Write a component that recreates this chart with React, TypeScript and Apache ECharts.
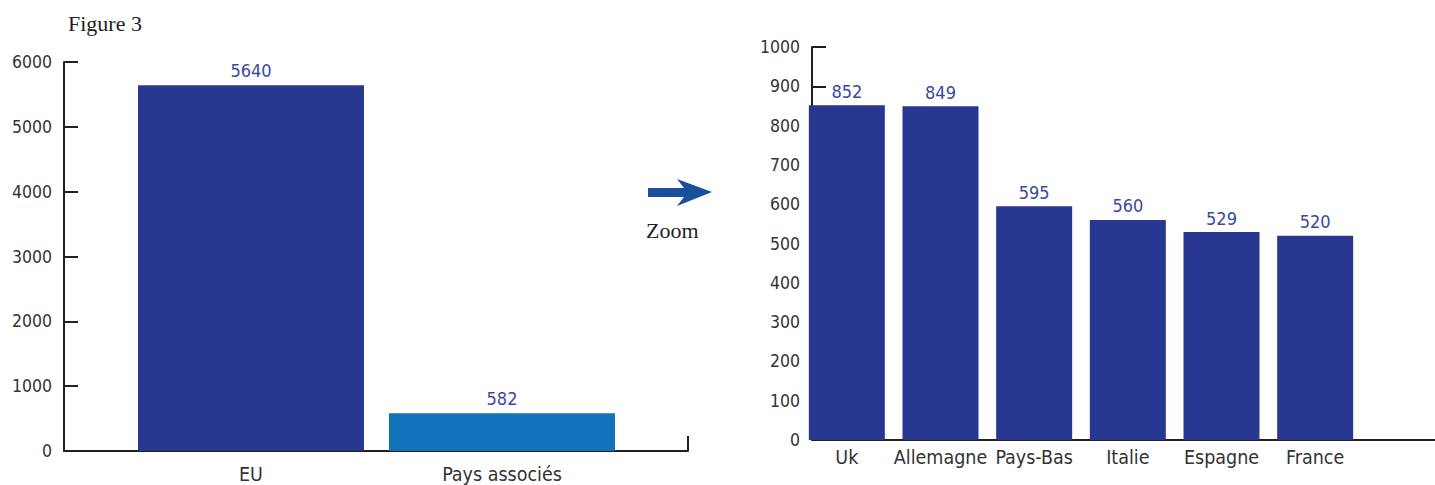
import React, { useEffect, useRef } from "react";
import * as echarts from "echarts";

const leftCategories = ["EU", "Pays associés"];
const leftValues = [5640, 582];
const leftColors = ["#283891", "#1273bb"];

const rightCategories = ["Uk", "Allemagne", "Pays-Bas", "Italie", "Espagne", "France"];
const rightValues = [852, 849, 595, 560, 529, 520];

const FONT = "'DejaVu Sans Condensed', Roboto, sans-serif";
const SERIF = "'Liberation Serif', serif";
const AXIS_COLOR = "#231f20";
const TEXT_COLOR = "#333333";
const LABEL_BLUE = "#3a49a2";

export default function App() {
  const ref = useRef<HTMLDivElement>(null);

  useEffect(() => {
    if (!ref.current) return;
    const chart = echarts.init(ref.current, null, { renderer: "svg" });

    const axisLine = { show: true, lineStyle: { color: AXIS_COLOR, width: 2 } };
    const yLabel = {
      fontFamily: FONT, fontSize: 17.5, color: TEXT_COLOR, margin: 12,
      formatter: (v: number) => String(v),
    };
    const g = { containLabel: false, outerBoundsMode: "none" };

    chart.setOption({
      animation: false,
      grid: [
        { ...g, left: 64, width: 624, top: 62, height: 389 },
        { ...g, left: 125.5, width: 502, top: 62, height: 389 },
        { ...g, left: 812, width: 623, top: 47, height: 393 },
        { ...g, left: 800, width: 562, top: 47, height: 393 },
      ],
      xAxis: [
        {
          gridIndex: 0, type: "value", min: 0, max: 1, interval: 1,
          axisLine, axisTick: { show: true, inside: true, length: 15, lineStyle: { color: AXIS_COLOR, width: 2 } },
          axisLabel: { show: false }, splitLine: { show: false },
        },
        {
          gridIndex: 1, type: "category", data: leftCategories,
          axisLine: { show: false }, axisTick: { show: false },
          axisLabel: { fontFamily: FONT, fontSize: 19.5, color: TEXT_COLOR, margin: 13, interval: 0, lineHeight: 20 },
        },
        {
          gridIndex: 2, type: "value", min: 0, max: 1, interval: 1,
          axisLine, axisTick: { show: false },
          axisLabel: { show: false }, splitLine: { show: false },
        },
        {
          gridIndex: 3, type: "category", data: rightCategories,
          axisLine: { show: false }, axisTick: { show: false },
          axisLabel: { fontFamily: FONT, fontSize: 19.5, color: TEXT_COLOR, margin: 7, interval: 0 },
        },
      ],
      yAxis: [
        {
          gridIndex: 0, type: "value", min: 0, max: 6000, interval: 1000,
          axisLine, axisTick: { show: true, inside: true, length: 14, lineStyle: { color: AXIS_COLOR, width: 2 } },
          axisLabel: yLabel, splitLine: { show: false },
        },
        {
          gridIndex: 1, type: "value", min: 0, max: 6000, interval: 1000, show: false,
        },
        {
          gridIndex: 2, type: "value", min: 0, max: 1000, interval: 100,
          axisLine, axisTick: { show: true, inside: true, length: 14, lineStyle: { color: AXIS_COLOR, width: 2 } },
          axisLabel: yLabel, splitLine: { show: false },
        },
        {
          gridIndex: 3, type: "value", min: 0, max: 1000, interval: 100, show: false,
        },
      ],
      series: [
        {
          type: "bar", xAxisIndex: 1, yAxisIndex: 1, barWidth: 226,
          data: leftValues.map((v, i) => ({ value: v, itemStyle: { color: leftColors[i] } })),
          label: { show: true, position: "top", distance: 6, fontFamily: FONT, fontSize: 18, color: LABEL_BLUE },
        },
        {
          type: "bar", xAxisIndex: 3, yAxisIndex: 3, barWidth: 76,
          data: rightValues,
          itemStyle: { color: "#283891" },
          label: { show: true, position: "top", distance: 5, fontFamily: FONT, fontSize: 18, color: LABEL_BLUE },
        },
      ],
      graphic: [
        {
          type: "text", left: 68, top: 12,
          style: { text: "Figure 3", fontFamily: SERIF, fontSize: 22, fill: "#231f20" },
        },
        {
          type: "polygon",
          shape: { points: [[648, 188], [684, 188], [677, 179], [712, 192], [677, 206], [684, 197], [648, 197]] },
          style: { fill: "#1a4f9c" },
        },
        {
          type: "text", left: 646, top: 219,
          style: { text: "Zoom", fontFamily: SERIF, fontSize: 22, fill: "#231f20" },
        },
      ],
    });

    return () => chart.dispose();
  }, []);

  return <div ref={ref} style={{ width: 1435, height: 485, position: "absolute", left: 0, top: 0 }} />;
}
